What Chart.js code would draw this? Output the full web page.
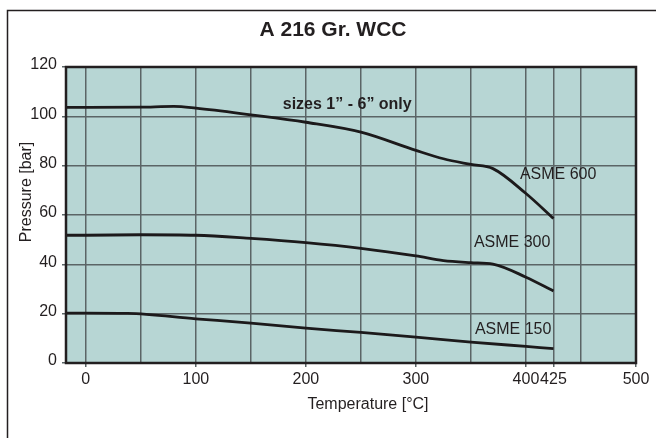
<!DOCTYPE html>
<html>
<head>
<meta charset="utf-8">
<script src="https://cdn.jsdelivr.net/npm/chart.js@4.4.1/dist/chart.umd.min.js"></script>
<style>
  html, body { margin: 0; padding: 0; background: #fff; }
  #wrap { width: 656px; height: 438px; position: relative; }
</style>
</head>
<body>
<div id="wrap"><canvas id="chart" width="656" height="438"></canvas></div>
<script>
// --- Dati ---
const temps600 = [-18, 0, 50, 80, 100, 150, 200, 250, 300, 325, 350, 370, 400, 425];
const asme600  = [103.6, 103.6, 103.7, 104, 103.3, 100.6, 97.6, 93.6, 86.2, 82.8, 80.5, 78.8, 68.7, 58.6];

const temps300 = [-18, 0, 50, 100, 150, 200, 250, 300, 325, 350, 370, 400, 425];
const asme300  = [51.8, 51.8, 52, 51.8, 50.5, 48.8, 46.5, 43.4, 41.5, 40.7, 40.1, 34.8, 29.2];

const temps150 = [-18, 0, 38, 100, 150, 200, 250, 300, 350, 400, 425];
const asme150  = [20.2, 20.2, 20.1, 17.9, 16.2, 14.1, 12.4, 10.5, 8.5, 6.7, 5.8];

const xGridValues = [0, 50, 100, 150, 200, 250, 300, 350, 400, 425, 450, 500];
const xTickLabels = [0, 100, 200, 300, 400, 425, 500];
const yTickValues = [0, 20, 40, 60, 80, 100, 120];

// etichette curve: [testo, temperatura, pressione, bold]
const curveLabels = [
    ['sizes 1\u201d - 6\u201d only', 179, 104.8, true],
    ['ASME 600', 394.5, 76.5, false],
    ['ASME 300', 352.7, 48.7, false],
    ['ASME 150', 353.6, 13.5, false]
];

const FONT = '"Liberation Sans", Arial, sans-serif';
const INK = '#231f20';
const GRID = '#5b6566';

const toPoints = (xs, ys) => xs.map((x, i) => ({ x: x, y: ys[i] }));

const lineStyle = {
    borderColor: '#1c1a1b',
    borderWidth: 2.8,
    pointRadius: 0,
    fill: false,
    cubicInterpolationMode: 'monotone'
};

// --- Plugin: sfondo, cornice, titoli, etichette ---
const decorPlugin = {
    id: 'decor',
    beforeDraw(chart) {
        const { ctx, chartArea: a } = chart;
        ctx.save();
        ctx.fillStyle = '#b7d6d4';
        ctx.fillRect(a.left, a.top, a.right - a.left, a.bottom - a.top);
        ctx.restore();
    },
    afterDraw(chart) {
        const { ctx, chartArea: a, scales } = chart;
        ctx.save();

        // bordo area grafico
        ctx.strokeStyle = INK;
        ctx.lineWidth = 2.5;
        ctx.strokeRect(a.left, a.top, a.right - a.left, a.bottom - a.top);

        // cornice esterna
        ctx.lineWidth = 1.5;
        ctx.beginPath();
        ctx.moveTo(7.5, 438);
        ctx.lineTo(7.5, 10.5);
        ctx.lineTo(656, 10.5);
        ctx.stroke();

        ctx.fillStyle = INK;
        ctx.textBaseline = 'middle';

        // titolo
        ctx.font = 'bold 21px ' + FONT;
        ctx.textAlign = 'center';
        ctx.fillText('A 216 Gr. WCC', 333, 30);

        // titoli assi
        ctx.font = '16px ' + FONT;
        ctx.fillText('Temperature [\u00b0C]', 368, 405);
        ctx.save();
        ctx.translate(26.5, 192);
        ctx.rotate(-Math.PI / 2);
        ctx.fillText('Pressure [bar]', 0, 0);
        ctx.restore();

        // etichette curve
        ctx.textAlign = 'left';
        curveLabels.forEach(([text, t, p, bold]) => {
            ctx.font = (bold ? 'bold 16px ' : '16px ') + FONT;
            ctx.fillText(text, scales.x.getPixelForValue(t), scales.y.getPixelForValue(p));
        });
        ctx.restore();
    }
};

const ctx = document.getElementById('chart').getContext('2d');
new Chart(ctx, {
    type: 'line',
    data: {
        datasets: [
            { label: 'ASME 600', data: toPoints(temps600, asme600), ...lineStyle },
            { label: 'ASME 300', data: toPoints(temps300, asme300), ...lineStyle },
            { label: 'ASME 150', data: toPoints(temps150, asme150), ...lineStyle }
        ]
    },
    options: {
        responsive: false,
        animation: false,
        events: [],
        layout: { padding: { left: 0, top: 67, right: 20, bottom: 0 } },
        plugins: {
            legend: { display: false },
            tooltip: { enabled: false }
        },
        scales: {
            x: {
                type: 'linear',
                min: -18,
                max: 500,
                afterFit: (s) => { s.height = 75; },
                afterBuildTicks: (s) => { s.ticks = xGridValues.map(v => ({ value: v })); },
                border: { display: false },
                grid: {
                    color: (c) => (c.tick && c.tick.value === 500) ? 'transparent' : GRID,
                    tickColor: (c) => (c.tick && xTickLabels.includes(c.tick.value)) ? GRID : 'transparent',
                    lineWidth: 1.5,
                    tickLength: 4
                },
                ticks: {
                    autoSkip: false,
                    maxRotation: 0,
                    minRotation: 0,
                    padding: 3,
                    color: INK,
                    font: { family: FONT, size: 16 },
                    callback: (v) => xTickLabels.includes(v) ? String(v) : ''
                }
            },
            y: {
                type: 'linear',
                min: 0,
                max: 120,
                afterFit: (s) => { s.width = 66; },
                afterBuildTicks: (s) => { s.ticks = yTickValues.map(v => ({ value: v })); },
                border: { display: false },
                grid: {
                    color: (c) => (c.tick && (c.tick.value === 0 || c.tick.value === 120)) ? 'transparent' : GRID,
                    tickColor: GRID,
                    lineWidth: 1.5,
                    tickLength: 4
                },
                ticks: {
                    padding: 5,
                    labelOffset: -2,
                    color: INK,
                    font: { family: FONT, size: 16 }
                }
            }
        }
    },
    plugins: [decorPlugin]
});
</script>
</body>
</html>
